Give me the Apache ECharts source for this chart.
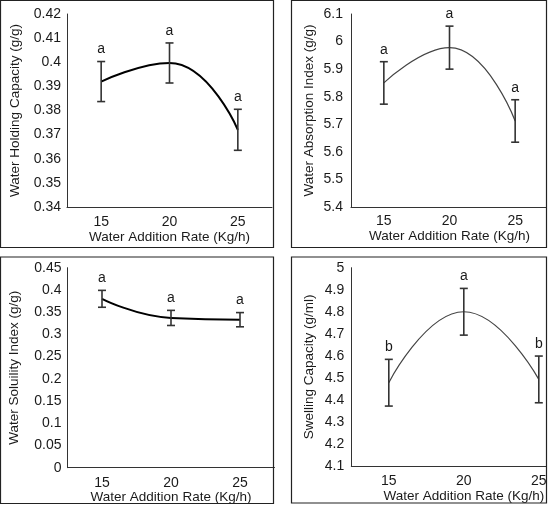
<!DOCTYPE html>
<html>
<head>
<meta charset="utf-8">
<script src="https://cdn.jsdelivr.net/npm/echarts@6/dist/echarts.min.js"></script>
<style>
  html, body { margin: 0; padding: 0; background: #fff; }
  #main { width: 548px; height: 512px; }
</style>
</head>
<body>
<div id="main"></div>
<script>
// water addition rate categories
var rates = ['15', '20', '25'];

// water holding capacity (g/g)
var whcMean = [0.392, 0.3997, 0.372];
var whcErr = [0.0083, 0.0083, 0.0085];
var whcLetters = ['a', 'a', 'a'];

// water absorption index (g/g)
var waiMean = [5.85, 5.978, 5.712];
var waiErr = [0.077, 0.078, 0.077];
var waiLetters = ['a', 'a', 'a'];

// water solubility index (g/g)
var wsiMean = [0.380, 0.337, 0.333];
var wsiErr = [0.019, 0.017, 0.016];
var wsiLetters = ['a', 'a', 'a'];

// swelling capacity (g/ml)
var scMean = [4.478, 4.80, 4.493];
var scErr = [0.106, 0.106, 0.106];
var scLetters = ['b', 'a', 'b'];

var FONT = "'Liberation Sans', Arial, sans-serif";
var TXT = '#1a1a1a';

function errData(means, errs) {
    var out = [];
    for (var i = 0; i < means.length; i++) {
        out.push([i, means[i] - errs[i], means[i] + errs[i]]);
    }
    return out;
}

function errRender(letters) {
    return function (params, api) {
        var top = api.coord([api.value(0), api.value(2)]);
        var bot = api.coord([api.value(0), api.value(1)]);
        var w = 4;
        var st = { stroke: '#333', lineWidth: 1.6 };
        return {
            type: 'group',
            children: [
                { type: 'line', shape: { x1: top[0], y1: top[1], x2: bot[0], y2: bot[1] }, style: st },
                { type: 'line', shape: { x1: top[0] - w, y1: top[1], x2: top[0] + w, y2: top[1] }, style: st },
                { type: 'line', shape: { x1: bot[0] - w, y1: bot[1], x2: bot[0] + w, y2: bot[1] }, style: st },
                {
                    type: 'text', x: top[0], y: top[1] - 12,
                    style: {
                        text: letters[params.dataIndex], align: 'center', verticalAlign: 'middle',
                        font: '14px ' + FONT, fill: TXT
                    }
                }
            ]
        };
    };
}

function xAx(idx, margin, gap) {
    return {
        type: 'category', gridIndex: idx, data: rates, boundaryGap: true,
        axisLine: { show: true, lineStyle: { color: '#333', width: 1 } },
        axisTick: { show: false },
        axisLabel: { color: TXT, fontSize: 14, fontFamily: FONT, margin: margin },
        name: 'Water Addition Rate (Kg/h)', nameLocation: 'middle', nameGap: gap,
        nameTextStyle: { color: TXT, fontSize: 13.5, fontFamily: FONT }
    };
}

function yAx(idx, name, min, max, interval, margin, gap) {
    return {
        type: 'value', gridIndex: idx, min: min, max: max, interval: interval,
        axisLine: { show: true, lineStyle: { color: '#333', width: 1 } },
        axisTick: { show: false },
        splitLine: { show: false },
        axisLabel: { color: TXT, fontSize: 14, fontFamily: FONT, margin: margin },
        name: name, nameLocation: 'middle', nameGap: gap,
        nameTextStyle: { color: TXT, fontSize: 13.5, fontFamily: FONT }
    };
}

function curve(idx, means, color, width) {
    return {
        type: 'line', xAxisIndex: idx, yAxisIndex: idx, data: means,
        smooth: 0.5, showSymbol: false, symbol: 'none',
        lineStyle: { color: color, width: width }, z: 2
    };
}

function bars(idx, means, errs, letters) {
    return {
        type: 'custom', xAxisIndex: idx, yAxisIndex: idx,
        data: errData(means, errs), renderItem: errRender(letters), z: 3
    };
}

var chart = echarts.init(document.getElementById('main'));

var option = {
    backgroundColor: '#fff',
    animation: false,
    grid: [
        { left: 67, top: 14, width: 205, height: 193, outerBoundsMode: 'none' },
        { left: 351, top: 14, width: 197, height: 193, outerBoundsMode: 'none' },
        { left: 67.5, top: 267.7, width: 207, height: 200, outerBoundsMode: 'none' },
        { left: 351.3, top: 267.7, width: 225, height: 198.3, outerBoundsMode: 'none' }
    ],
    xAxis: [xAx(0, 8, 23), xAx(1, 7, 20), xAx(2, 8, 22), xAx(3, 8, 23)],
    yAxis: [
        yAx(0, 'Water Holding Capacity (g/g)', 0.34, 0.42, 0.01, 6, 45),
        yAx(1, 'Water Absorption Index (g/g)', 5.4, 6.1, 0.1, 8, 35),
        yAx(2, 'Water Soluility Index (g/g)', 0, 0.45, 0.05, 6, 46),
        yAx(3, 'Swelling Capacity (g/ml)', 4.1, 5, 0.1, 7, 35)
    ],
    series: [
        curve(0, whcMean, '#000', 2),
        bars(0, whcMean, whcErr, whcLetters),
        curve(1, waiMean, '#444', 1.2),
        bars(1, waiMean, waiErr, waiLetters),
        curve(2, wsiMean, '#000', 2),
        bars(2, wsiMean, wsiErr, wsiLetters),
        curve(3, scMean, '#444', 1.2),
        bars(3, scMean, scErr, scLetters)
    ],
    graphic: [
        { type: 'rect', z: 100, shape: { x: 547, y: 0, width: 10, height: 512 }, style: { fill: '#fff' } },
        { type: 'rect', z: 101, shape: { x: 0.5, y: 0.5, width: 273, height: 247 }, style: { fill: 'none', stroke: '#222', lineWidth: 1.2 } },
        { type: 'rect', z: 101, shape: { x: 291.5, y: 0.5, width: 255, height: 247 }, style: { fill: 'none', stroke: '#222', lineWidth: 1.2 } },
        { type: 'rect', z: 101, shape: { x: 0.5, y: 257, width: 273, height: 246.5 }, style: { fill: 'none', stroke: '#222', lineWidth: 1.2 } },
        { type: 'rect', z: 101, shape: { x: 291.5, y: 257, width: 255, height: 246 }, style: { fill: 'none', stroke: '#222', lineWidth: 1.2 } }
    ]
};

chart.setOption(option);
</script>
</body>
</html>
